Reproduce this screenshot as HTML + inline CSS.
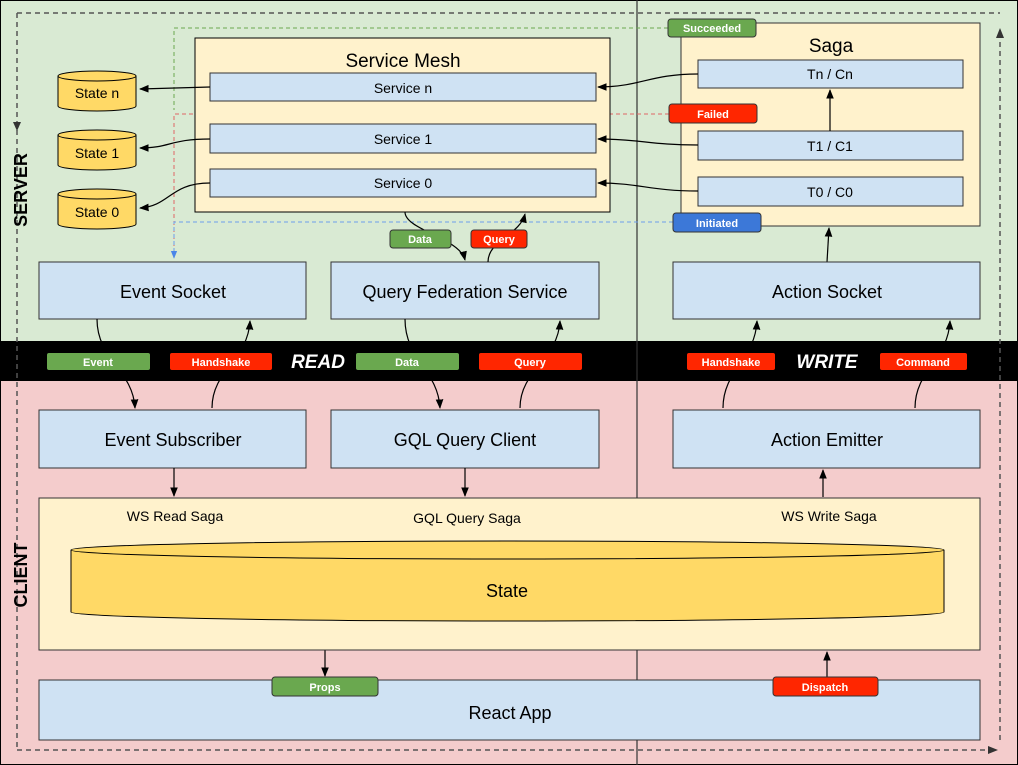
<!DOCTYPE html>
<html><head><meta charset="utf-8"><style>
html,body{margin:0;padding:0;background:#fff}
svg{display:block;font-family:"Liberation Sans",Arial,sans-serif}
</style></head><body>
<svg width="1018" height="765" viewBox="0 0 1018 765" xmlns="http://www.w3.org/2000/svg">
<defs>
<marker id="a" viewBox="0 0 10 10" refX="9" refY="5" markerWidth="8" markerHeight="8" orient="auto"><path d="M0,1 L10,5 L0,9 z" fill="#000"/></marker>
<marker id="ab" viewBox="0 0 10 10" refX="9" refY="5" markerWidth="8" markerHeight="8" orient="auto"><path d="M0,1 L10,5 L0,9 z" fill="#4a86e8"/></marker>
</defs>
<rect x="0" y="0" width="1018" height="341" fill="#d9ead3"/>
<rect x="0" y="381" width="1018" height="384" fill="#f4cccc"/>
<rect x="0" y="341" width="1018" height="40" fill="#000"/>
<rect x="0.5" y="0.5" width="1017" height="764" fill="none" stroke="#000"/>
<line x1="637" y1="0" x2="637" y2="765" stroke="#333" stroke-width="1.2"/>

<g stroke="#555" stroke-width="1.5" stroke-dasharray="5,4" fill="none">
<line x1="17" y1="13" x2="1000" y2="13"/>
<line x1="17" y1="13" x2="17" y2="750"/>
<line x1="17" y1="750" x2="995" y2="750"/>
<line x1="1000" y1="740" x2="1000" y2="30"/>
</g>
<path d="M13,122 L21,122 L17,131 z" fill="#333"/>
<path d="M996,38 L1004,38 L1000,28 z" fill="#333"/>
<path d="M988,746 L988,754 L998,750 z" fill="#333"/>

<text transform="translate(27,190) rotate(-90)" font-size="18" font-weight="bold" text-anchor="middle">SERVER</text>
<text transform="translate(27,575) rotate(-90)" font-size="18" font-weight="bold" text-anchor="middle">CLIENT</text>

<g fill="none" stroke-width="1" stroke-dasharray="4,3">
<polyline points="669,114 174,114 174,250" stroke="#e06666"/>
<polyline points="668,28 174,28 174,110" stroke="#6aa84f"/>
<polyline points="673,222 174,222 174,258" stroke="#6d9eeb" marker-end="url(#ab)"/>
</g>

<rect x="195" y="38" width="415" height="174" fill="#fff2cc" stroke="#000"/>
<text x="403" y="67" font-size="19" text-anchor="middle">Service Mesh</text>
<g fill="#cfe2f3" stroke="#333">
<rect x="210" y="73" width="386" height="28"/>
<rect x="210" y="124" width="386" height="29"/>
<rect x="210" y="169" width="386" height="28"/>
</g>
<g font-size="14" text-anchor="middle">
<text x="403" y="93">Service n</text>
<text x="403" y="144">Service 1</text>
<text x="403" y="188">Service 0</text>
</g>

<g fill="#ffd966" stroke="#000">
<path d="M58,76 v30 a39,5 0 0 0 78,0 v-30"/><ellipse cx="97" cy="76" rx="39" ry="5"/>
<path d="M58,135 v30 a39,5 0 0 0 78,0 v-30"/><ellipse cx="97" cy="135" rx="39" ry="5"/>
<path d="M58,194 v30 a39,5 0 0 0 78,0 v-30"/><ellipse cx="97" cy="194" rx="39" ry="5"/>
</g>
<g font-size="14" text-anchor="middle">
<text x="97" y="98">State n</text>
<text x="97" y="158">State 1</text>
<text x="97" y="217">State 0</text>
</g>
<g fill="none" stroke="#000" stroke-width="1.2" marker-end="url(#a)">
<path d="M210,87 L140,89"/>
<path d="M210,139 C170,139 170,148 140,148"/>
<path d="M210,183 C170,183 170,206 140,208"/>
</g>

<rect x="681" y="23" width="299" height="203" fill="#fff2cc" stroke="#333"/>
<text x="831" y="52" font-size="19" text-anchor="middle">Saga</text>
<g fill="#cfe2f3" stroke="#333">
<rect x="698" y="60" width="265" height="28"/>
<rect x="698" y="131" width="265" height="29"/>
<rect x="698" y="177" width="265" height="29"/>
</g>
<g font-size="14" text-anchor="middle">
<text x="830" y="79">Tn / Cn</text>
<text x="830" y="151">T1 / C1</text>
<text x="830" y="197">T0 / C0</text>
</g>
<g fill="none" stroke="#000" stroke-width="1.2" marker-end="url(#a)">
<path d="M698,74 C650,74 640,87 598,87"/>
<path d="M698,145 C650,145 640,139 598,139"/>
<path d="M698,191 C650,191 640,183 598,183"/>
<path d="M830,131 L830,90"/>
<path d="M827,262 L829,228"/>
</g>
<g font-size="11" font-weight="bold" fill="#fff" text-anchor="middle">
<rect x="668" y="19" width="88" height="18" rx="3" fill="#6aa84f" stroke="#333"/><text x="712" y="32">Succeeded</text>
<rect x="669" y="104" width="88" height="19" rx="3" fill="#ff2600" stroke="#333"/><text x="713" y="118">Failed</text>
<rect x="673" y="213" width="88" height="19" rx="3" fill="#3c78d8" stroke="#333"/><text x="717" y="227">Initiated</text>
</g>

<g fill="#cfe2f3" stroke="#333">
<rect x="39" y="262" width="267" height="57"/>
<rect x="331" y="262" width="268" height="57"/>
<rect x="673" y="262" width="307" height="57"/>
<rect x="39" y="410" width="267" height="58"/>
<rect x="331" y="410" width="268" height="58"/>
<rect x="673" y="410" width="307" height="58"/>
</g>
<g font-size="18" text-anchor="middle">
<text x="173" y="298">Event Socket</text>
<text x="465" y="298">Query Federation Service</text>
<text x="827" y="298">Action Socket</text>
<text x="173" y="446">Event Subscriber</text>
<text x="465" y="446">GQL Query Client</text>
<text x="827" y="446">Action Emitter</text>
</g>

<g fill="none" stroke="#000" stroke-width="1.2" marker-end="url(#a)">
<path d="M405,212 C405,230 460,238 465,260"/>
<path d="M488,262 C488,240 520,235 525,214"/>
<path d="M97,319 C97,360 133,370 135,408"/>
<path d="M212,408 C212,370 248,360 250,321"/>
<path d="M405,319 C405,360 438,370 440,408"/>
<path d="M520,408 C520,370 558,360 560,321"/>
<path d="M723,408 C723,370 755,360 757,321"/>
<path d="M915,408 C915,370 948,360 950,321"/>
<path d="M174,468 L174,496"/>
<path d="M465,468 L465,496"/>
<path d="M823,497 L823,470"/>
<path d="M325,650 L325,676"/>
<path d="M827,680 L827,652"/>
</g>

<g font-size="11" font-weight="bold" fill="#fff" text-anchor="middle">
<rect x="390" y="230" width="61" height="18" rx="3" fill="#6aa84f" stroke="#333"/><text x="420" y="243">Data</text>
<rect x="471" y="230" width="56" height="18" rx="3" fill="#ff2600" stroke="#333"/><text x="499" y="243">Query</text>
<rect x="47" y="353" width="103" height="17" rx="2" fill="#6aa84f"/><text x="98" y="366">Event</text>
<rect x="170" y="353" width="102" height="17" rx="2" fill="#ff2600"/><text x="221" y="366">Handshake</text>
<rect x="356" y="353" width="103" height="17" rx="2" fill="#6aa84f"/><text x="407" y="366">Data</text>
<rect x="479" y="353" width="103" height="17" rx="2" fill="#ff2600"/><text x="530" y="366">Query</text>
<rect x="687" y="353" width="88" height="17" rx="2" fill="#ff2600"/><text x="731" y="366">Handshake</text>
<rect x="880" y="353" width="87" height="17" rx="2" fill="#ff2600"/><text x="923" y="366">Command</text>
</g>
<g font-size="19" font-weight="bold" font-style="italic" fill="#fff" text-anchor="middle">
<text x="318" y="368">READ</text>
<text x="827" y="368">WRITE</text>
</g>

<rect x="39" y="498" width="941" height="152" fill="#fff2cc" stroke="#333"/>
<g font-size="14" text-anchor="middle">
<text x="175" y="521">WS Read Saga</text>
<text x="467" y="523">GQL Query Saga</text>
<text x="829" y="521">WS Write Saga</text>
</g>
<path d="M71,550 v62 a436,9 0 0 0 873,0 v-62" fill="#ffd966" stroke="#000"/>
<ellipse cx="507.5" cy="550" rx="436.5" ry="9" fill="#ffd966" stroke="#000"/>
<text x="507" y="597" font-size="18" text-anchor="middle">State</text>

<rect x="39" y="680" width="941" height="60" fill="#cfe2f3" stroke="#333"/>
<text x="510" y="719" font-size="18" text-anchor="middle">React App</text>
<g font-size="11" font-weight="bold" fill="#fff" text-anchor="middle">
<rect x="272" y="677" width="106" height="19" rx="3" fill="#6aa84f" stroke="#333"/><text x="325" y="691">Props</text>
<rect x="773" y="677" width="105" height="19" rx="3" fill="#ff2600" stroke="#333"/><text x="825" y="691">Dispatch</text>
</g>
</svg>
</body></html>
